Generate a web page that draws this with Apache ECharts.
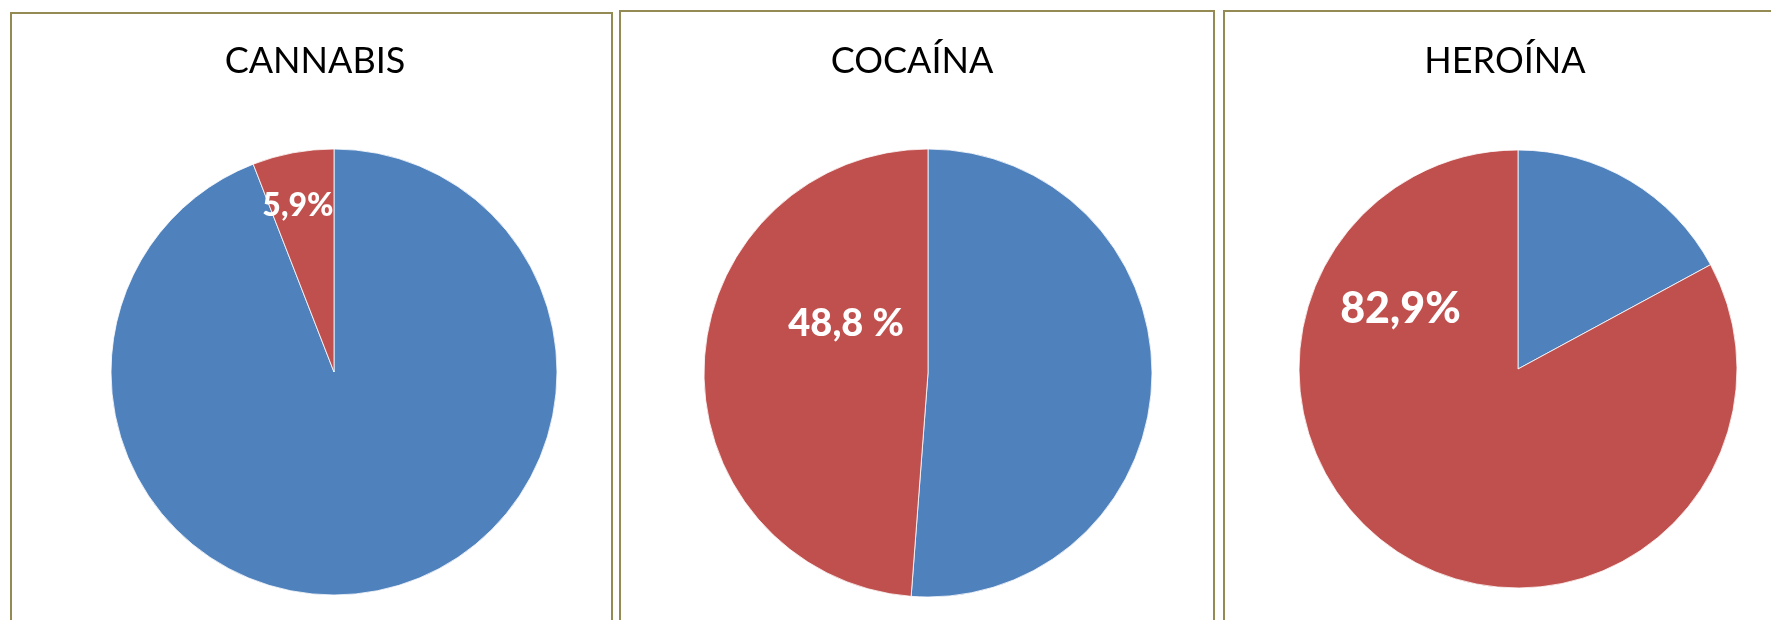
<!DOCTYPE html>
<html>
<head>
<meta charset="UTF-8">
<title>Cannabis, cocaína, heroína</title>
<script src="https://cdn.jsdelivr.net/npm/echarts@6/dist/echarts.min.js"></script>
<style>
  html, body { margin: 0; padding: 0; background: #fff; }
  #main { width: 1771px; height: 620px; }
</style>
</head>
<body>
<div id="main"></div>
<script type="text/javascript">
// datos (porcentajes)
var drugNames = ['CANNABIS', 'COCAÍNA', 'HEROÍNA'];
var sliceNames = ['Resto', 'Porcentaje'];
var cannabisValues = [94.1, 5.9];
var cocainaValues = [51.2, 48.8];
var heroinaValues = [17.1, 82.9];
var labelTexts = ['5,9%', '48,8 %', '82,9%'];

var sliceColors = ['#4F81BD', '#C0504D'];
var frameColor = '#948A54';

// posicion de cada tarta y de su etiqueta
var pies = [
  { values: cannabisValues, center: [334, 372], radius: 223, titleX: 310, label: { dx: -15, dy: -54, size: 32 } },
  { values: cocainaValues, center: [928, 373], radius: 224, titleX: 907, label: { dx: 33, dy: -45, size: 38 } },
  { values: heroinaValues, center: [1518, 369], radius: 219, titleX: 1500, label: { dx: -60, dy: -157, size: 43 } }
];

var myChart = echarts.init(document.getElementById('main'));

var titles = [];
var series = [];
for (var i = 0; i < pies.length; i++) {
  var p = pies[i];
  titles.push({
    text: drugNames[i],
    left: p.titleX,
    top: 38,
    textAlign: 'center',
    textStyle: { fontFamily: 'Lato', fontWeight: 'normal', fontSize: 36, color: '#000' }
  });
  var data = [];
  for (var j = 0; j < p.values.length; j++) {
    data.push({
      name: sliceNames[j],
      value: p.values[j],
      itemStyle: { color: sliceColors[j] },
      label: j === 1 ? {
        show: true,
        formatter: labelTexts[i],
        fontSize: p.label.size
      } : { show: false }
    });
  }
  series.push({
    name: drugNames[i],
    type: 'pie',
    center: p.center,
    radius: p.radius,
    startAngle: 90,
    clockwise: true,
    avoidLabelOverlap: false,
    silent: true,
    itemStyle: { borderColor: '#fff', borderWidth: 0.8 },
    label: {
      position: 'inside',
      color: '#fff',
      fontFamily: 'Lato',
      fontWeight: 900
    },
    labelLine: { show: false },
    labelLayout: { dx: p.label.dx, dy: p.label.dy },
    data: data
  });
}

var option = {
  animation: false,
  backgroundColor: '#fff',
  title: titles,
  graphic: [
    { type: 'rect', shape: { x: 11, y: 13, width: 601, height: 700 }, style: { fill: 'none', stroke: frameColor, lineWidth: 2 } },
    { type: 'rect', shape: { x: 620, y: 11, width: 594, height: 700 }, style: { fill: 'none', stroke: frameColor, lineWidth: 2 } },
    { type: 'rect', shape: { x: 1224, y: 11, width: 700, height: 700 }, style: { fill: 'none', stroke: frameColor, lineWidth: 2 } }
  ],
  series: series
};

myChart.setOption(option);
</script>
</body>
</html>
